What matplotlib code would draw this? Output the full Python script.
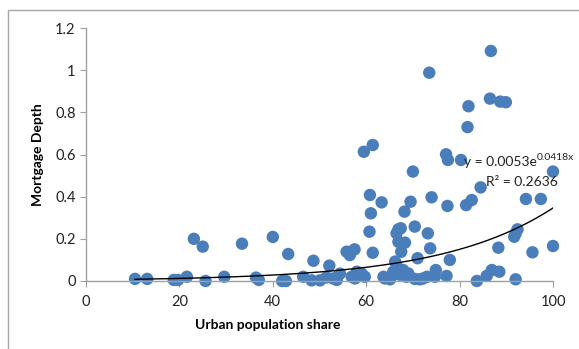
import matplotlib.pyplot as plt
from matplotlib.patches import Rectangle
import numpy as np

plt.rcParams['font.family'] = ['Lato', 'DejaVu Sans']

# urban population share (%) and mortgage depth for each country
urban = [10.5, 13.1, 18.8, 19.7, 21.6, 23.1, 25.0, 25.6, 29.6, 33.4,
         36.4, 37.0, 40.0, 42.0, 42.8, 43.3, 46.5, 48.3, 48.7, 50.1,
         51.5, 52.1, 52.9, 53.7, 54.4, 55.8, 56.5, 57.5, 56.9, 57.6,
         58.0, 59.0, 59.5, 59.7, 60.7, 60.8, 61.0, 61.4, 61.4, 63.3,
         63.7, 64.0, 65.1, 65.8, 66.2, 66.5, 66.9, 66.9, 66.9, 67.2,
         67.4, 67.5, 67.9, 68.2, 68.3, 68.6, 69.0, 69.5, 70.0, 70.4,
         70.4, 71.0, 71.5, 72.2, 73.0, 73.2, 73.5, 73.7, 74.0, 74.7,
         74.9, 77.1, 77.2, 77.4, 77.5, 77.9, 80.3, 81.4, 81.7, 81.9,
         82.6, 83.7, 84.5, 85.8, 86.5, 86.7, 86.9, 88.3, 88.5, 88.7,
         89.9, 91.7, 92.0, 92.0, 92.4, 94.2, 95.6, 97.4, 100.0, 100.0]
depth = [0.010, 0.010, 0.005, 0.005, 0.020, 0.200, 0.163, 0.000, 0.020, 0.177,
         0.016, 0.005, 0.209, 0.000, 0.000, 0.128, 0.020, 0.003, 0.096, 0.003,
         0.017, 0.073, 0.012, 0.005, 0.035, 0.139, 0.123, 0.150, 0.020, 0.012,
         0.044, 0.036, 0.613, 0.020, 0.234, 0.408, 0.321, 0.645, 0.134, 0.373,
         0.020, 0.012, 0.008, 0.044, 0.092, 0.226, 0.245, 0.186, 0.060, 0.030,
         0.250, 0.139, 0.052, 0.329, 0.182, 0.020, 0.036, 0.376, 0.519, 0.258,
         0.010, 0.108, 0.008, 0.012, 0.020, 0.226, 0.988, 0.155, 0.397, 0.020,
         0.052, 0.601, 0.024, 0.356, 0.574, 0.100, 0.574, 0.360, 0.730, 0.829,
         0.384, 0.000, 0.444, 0.024, 0.865, 1.091, 0.052, 0.158, 0.044, 0.851,
         0.848, 0.210, 0.226, 0.008, 0.245, 0.389, 0.136, 0.389, 0.519, 0.166]

# exponential trend fit
coef_a = 0.0053
coef_b = 0.0418
r2 = 0.2636

xticks = [0, 20, 40, 60, 80, 100]
yticks = [0, 0.2, 0.4, 0.6, 0.8, 1.0, 1.2]
ytick_labels = ['0', '0.2', '0.4', '0.6', '0.8', '1', '1.2']

fig = plt.figure(figsize=(5.79, 3.49), dpi=100)
fig.patches.append(Rectangle((8 / 579, -0.05), 1.0, (349 - 10) / 349 + 0.05,
                             transform=fig.transFigure, fill=False,
                             edgecolor='#a6a6a6', linewidth=1.0))

ax = fig.add_axes([86 / 579, 68 / 349, 467 / 579, 253 / 349])
ax.scatter(urban, depth, s=80, color='#4a7ebb', edgecolors='none', zorder=2)

xs = np.linspace(min(urban), max(urban), 200)
ax.plot(xs, coef_a * np.exp(coef_b * xs), color='black', linewidth=1.0, zorder=3)

ax.set_xlim(0, 100)
ax.set_ylim(0, 1.2)
ax.set_xticks(xticks)
ax.set_yticks(yticks)
ax.set_yticklabels(ytick_labels)
for side in ['top', 'right']:
    ax.spines[side].set_visible(False)
for side in ['left', 'bottom']:
    ax.spines[side].set_color('#a0a0a0')
    ax.spines[side].set_linewidth(1.0)
ax.tick_params(direction='out', length=4, color='#a0a0a0', labelsize=10.5,
               labelcolor='#222222')
ax.tick_params(axis='x', pad=6)
for c in ax.collections:
    c.set_clip_on(False)

fig.text(268 / 579, 1 - 325 / 349, 'Urban population share', ha='center',
         va='center', fontsize=10, fontweight='bold')
fig.text(38 / 579, 1 - 155 / 349, 'Mortgage Depth', ha='center', va='center',
         rotation=90, fontsize=10, fontweight='bold')

# trend equation: base text plus a small exponent
eq = fig.text(464 / 579, 1 - 162 / 349, 'y = 0.0053e', ha='left',
              va='center', fontsize=10, color='#222222')
fig.canvas.draw()
bb = eq.get_window_extent()
fig.text(bb.x1 / fig.bbox.width, 1 - 157 / 349, '%.4fx' % coef_b,
         ha='left', va='center', fontsize=7.5, color='#222222')
fig.text(486 / 579, 1 - 182 / 349, 'R² = %.4f' % r2, ha='left', va='center',
         fontsize=10, color='#222222')

fig.savefig('out.png', dpi=100)
